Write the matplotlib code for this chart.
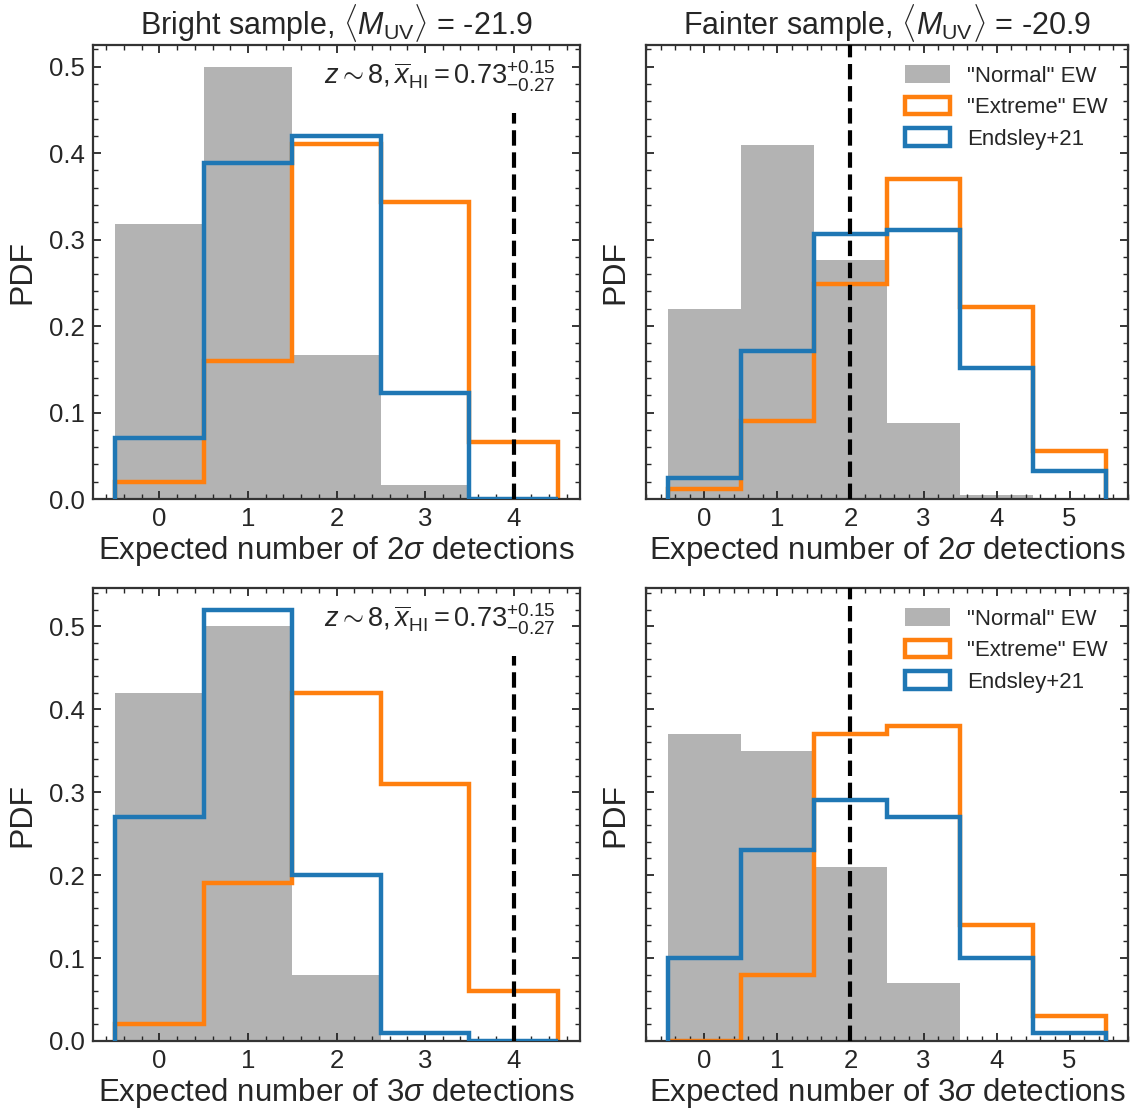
import numpy as np
import matplotlib
matplotlib.use("Agg")
import matplotlib.pyplot as plt

plt.rcParams['font.family'] = ['Liberation Sans', 'DejaVu Sans']
plt.rcParams['mathtext.fontset'] = 'custom'
plt.rcParams['mathtext.rm'] = 'Liberation Sans'
plt.rcParams['mathtext.it'] = 'Liberation Sans:italic'
plt.rcParams['mathtext.bf'] = 'Liberation Sans:bold'
TXT = '#262626'
plt.rcParams['text.color'] = TXT
plt.rcParams['axes.labelcolor'] = TXT
plt.rcParams['xtick.color'] = TXT
plt.rcParams['ytick.color'] = TXT
plt.rcParams['axes.edgecolor'] = '#333333'

# ---- data ----
edges_bright = np.arange(-0.5, 5.0, 1.0)   # 5 bins: 0..4
edges_faint = np.arange(-0.5, 6.0, 1.0)    # 6 bins: 0..5
centers_bright = [0, 1, 2, 3, 4]
centers_faint = [0, 1, 2, 3, 4, 5]

# 2 sigma detections
bright2_normal = [0.318, 0.500, 0.166, 0.016, 0.0]
bright2_extreme = [0.020, 0.160, 0.410, 0.344, 0.066]
bright2_endsley = [0.070, 0.388, 0.420, 0.122, 0.0]

faint2_normal = [0.220, 0.409, 0.276, 0.088, 0.005, 0.0]
faint2_extreme = [0.012, 0.090, 0.249, 0.370, 0.222, 0.056]
faint2_endsley = [0.024, 0.171, 0.307, 0.311, 0.152, 0.032]

# 3 sigma detections
bright3_normal = [0.419, 0.500, 0.080, 0.0, 0.0]
bright3_extreme = [0.020, 0.190, 0.420, 0.310, 0.060]
bright3_endsley = [0.270, 0.520, 0.200, 0.010, 0.0]

faint3_normal = [0.370, 0.350, 0.210, 0.070, 0.0, 0.0]
faint3_extreme = [0.0, 0.080, 0.370, 0.380, 0.140, 0.030]
faint3_endsley = [0.100, 0.230, 0.290, 0.270, 0.100, 0.010]

observed_bright = 4
observed_faint = 2

titles = [r'Bright sample, $\langle M_{\rm UV}\rangle$ = -21.9',
          r'Fainter sample, $\langle M_{\rm UV}\rangle$ = -20.9']
xlabels = [r'Expected number of 2$\sigma$ detections',
           r'Expected number of 3$\sigma$ detections']
labels = ['"Normal" EW', '"Extreme" EW', 'Endsley+21']
annot = r'$z\sim8, \overline{x}_{\rm HI} = 0.73^{+0.15}_{-0.27}$'

C_GRAY = '#b3b3b3'
C_ORANGE = '#ff7f0e'
C_BLUE = '#1f77b4'

fig = plt.figure(figsize=(11.35, 11.11), dpi=100)
W, H = 1135, 1111
def pos(l, r, t, b):
    return [l / W, 1 - b / H, (r - l) / W, (b - t) / H]

ax_tl = fig.add_axes(pos(93, 580, 45, 499))
ax_tr = fig.add_axes(pos(646, 1128, 45, 499), sharey=ax_tl)
ax_bl = fig.add_axes(pos(93, 580, 588, 1041))
ax_br = fig.add_axes(pos(646, 1128, 588, 1041), sharey=ax_bl)

panels = [
    (ax_tl, centers_bright, edges_bright, bright2_normal, bright2_extreme, bright2_endsley, observed_bright, 0),
    (ax_tr, centers_faint, edges_faint, faint2_normal, faint2_extreme, faint2_endsley, observed_faint, 0),
    (ax_bl, centers_bright, edges_bright, bright3_normal, bright3_extreme, bright3_endsley, observed_bright, 1),
    (ax_br, centers_faint, edges_faint, faint3_normal, faint3_extreme, faint3_endsley, observed_faint, 1),
]

for i, (ax, cen, ed, nrm, ext, ends, obs, row) in enumerate(panels):
    ax.hist(cen, bins=ed, weights=nrm, histtype='stepfilled', color=C_GRAY,
            label=labels[0], zorder=1)
    ax.hist(cen, bins=ed, weights=ext, histtype='step', color=C_ORANGE, lw=3.2,
            label=labels[1], zorder=2)
    ax.hist(cen, bins=ed, weights=ends, histtype='step', color=C_BLUE, lw=3.2,
            label=labels[2], zorder=3)
    left = (i % 2 == 0)
    if left:
        ax.axvline(obs, ymax=0.85, color='k', ls='--', lw=3, zorder=4)
        ax.text(0.95, 0.97, annot, transform=ax.transAxes, ha='right', va='top',
                fontsize=19.5)
        ax.set_xticks([0, 1, 2, 3, 4])
    else:
        ax.axvline(obs, color='k', ls='--', lw=3, zorder=4)
        ax.set_xticks([0, 1, 2, 3, 4, 5])
        ax.tick_params(labelleft=False)
        ax.legend(loc='upper right', frameon=False, fontsize=16,
                  handlelength=2.0, handleheight=0.85, labelspacing=0.45,
                  borderaxespad=0.5)
    ax.set_ylabel('PDF', fontsize=23, labelpad=8)
    ax.set_xlabel(xlabels[row], fontsize=22.5, labelpad=2)
    if row == 0:
        ax.set_title(titles[i % 2], fontsize=22, pad=8)
    ax.set_yticks([0.0, 0.1, 0.2, 0.3, 0.4, 0.5])
    ax.yaxis.set_major_formatter(matplotlib.ticker.FormatStrFormatter('%.1f'))
    ax.xaxis.set_minor_locator(matplotlib.ticker.MultipleLocator(0.2))
    ax.yaxis.set_minor_locator(matplotlib.ticker.MultipleLocator(0.02))
    ax.tick_params(which='both', direction='in', top=True, right=True)
    ax.tick_params(which='major', length=6, width=1.3, labelsize=18.5, pad=6)
    ax.tick_params(which='minor', length=3.5, width=1.0)
    for s in ax.spines.values():
        s.set_linewidth(1.6)

fig.savefig('out.png', dpi=100)
